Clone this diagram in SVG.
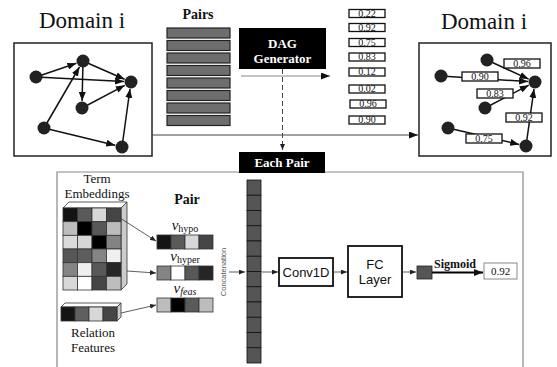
<svg xmlns="http://www.w3.org/2000/svg" width="557" height="367" viewBox="0 0 557 367">
  <style>
    .serif { font-family: "Liberation Serif", "Times New Roman", serif; }
    .sans { font-family: "Liberation Sans", Arial, sans-serif; }
    .title { font-size: 23px; fill: #111; }
    .frame { fill: #fff; stroke: #222; stroke-width: 1.5; }
    .dot { fill: #222; }
    .edge { stroke: #111; stroke-width: 1.5; fill: none; marker-end: url(#head); }
    .score { fill: #fff; stroke: #111; stroke-width: 1.3; }
    .scoretxt { font-size: 10px; fill: #111; text-anchor: middle; }
    .bar { fill: #6e6e6e; stroke: #222; stroke-width: 1.2; }
    .cell { stroke: #333; stroke-width: 0.8; }
    .thin { stroke: #333; stroke-width: 0.8; fill: none; marker-end: url(#small); }
    .panel { fill: none; stroke: #888; stroke-width: 1.2; }
    .block { fill: #fff; stroke: #111; stroke-width: 1.8; }
    .label { font-size: 13px; fill: #111; text-anchor: middle; }
  </style>
  <defs>
    <marker id="head" markerUnits="userSpaceOnUse" markerWidth="9" markerHeight="7" refX="9" refY="3.5" orient="auto">
      <path d="M0,0 L9,3.5 L0,7 z" fill="#111"/>
    </marker>
    <marker id="small" markerUnits="userSpaceOnUse" markerWidth="6" markerHeight="5" refX="6" refY="2.5" orient="auto">
      <path d="M0,0 L6,2.5 L0,5 z" fill="#222"/>
    </marker>
  </defs>

  <!-- input domain graph -->
  <g id="domain-input">
    <text class="serif title" x="82" y="28" text-anchor="middle">Domain i</text>
    <rect class="frame" x="14" y="43" width="138" height="113"/>
    <line class="edge" x1="36" y1="77" x2="76.4" y2="63.3"/>
    <line class="edge" x1="36" y1="77" x2="124" y2="81.6"/>
    <line class="edge" x1="83" y1="61" x2="124.6" y2="79.2"/>
    <line class="edge" x1="83" y1="61" x2="82.1" y2="101"/>
    <line class="edge" x1="82" y1="108" x2="124.8" y2="85.3"/>
    <line class="edge" x1="44" y1="128" x2="79.5" y2="67"/>
    <line class="edge" x1="44" y1="128" x2="115.2" y2="145.3"/>
    <line class="edge" x1="122" y1="147" x2="130" y2="88.9"/>
    <circle class="dot" cx="83" cy="61" r="6.5"/>
    <circle class="dot" cx="36" cy="77" r="6.5"/>
    <circle class="dot" cx="131" cy="82" r="6.5"/>
    <circle class="dot" cx="82" cy="108" r="6.5"/>
    <circle class="dot" cx="44" cy="128" r="6.5"/>
    <circle class="dot" cx="122" cy="147" r="6.5"/>
  </g>

  <!-- candidate pairs -->
  <g id="pairs">
    <text class="serif" x="198" y="19" font-size="14" font-weight="bold" text-anchor="middle" fill="#111">Pairs</text>
    <rect class="bar" x="167" y="28" width="63" height="10"/>
    <rect class="bar" x="167" y="40.5" width="63" height="10"/>
    <rect class="bar" x="167" y="53" width="63" height="10"/>
    <rect class="bar" x="167" y="65.5" width="63" height="10"/>
    <rect class="bar" x="167" y="78" width="63" height="10"/>
    <rect class="bar" x="167" y="90.5" width="63" height="10"/>
    <rect class="bar" x="167" y="103" width="63" height="10"/>
    <rect class="bar" x="167" y="115.5" width="63" height="10"/>
  </g>

  <g id="dag-generator">
    <rect x="239" y="28" width="87" height="41" fill="#000"/>
    <text class="serif" x="282.5" y="48" font-size="13" font-weight="bold" fill="#fff" text-anchor="middle">DAG</text>
    <text class="serif" x="282.5" y="63" font-size="13" font-weight="bold" fill="#fff" text-anchor="middle">Generator</text>
  </g>

  <!-- pair scores -->
  <g id="scores">
    <rect class="score" x="349" y="9.5" width="36" height="8"/>
    <text class="serif scoretxt" x="367" y="16.5">0.22</text>
    <rect class="score" x="349" y="23.5" width="36" height="8"/>
    <text class="serif scoretxt" x="367" y="30.5">0.92</text>
    <rect class="score" x="349" y="38.5" width="36" height="8"/>
    <text class="serif scoretxt" x="367" y="45.5">0.75</text>
    <rect class="score" x="349" y="53" width="36" height="8"/>
    <text class="serif scoretxt" x="367" y="60">0.83</text>
    <rect class="score" x="349" y="68" width="36" height="8"/>
    <text class="serif scoretxt" x="367" y="75">0.12</text>
    <rect class="score" x="349" y="85" width="36" height="8"/>
    <text class="serif scoretxt" x="367" y="92">0.02</text>
    <rect class="score" x="350" y="100" width="36" height="8"/>
    <text class="serif scoretxt" x="368" y="107">0.96</text>
    <rect class="score" x="349" y="116" width="36" height="8"/>
    <text class="serif scoretxt" x="367" y="123">0.90</text>
  </g>

  <!-- output domain graph -->
  <g id="domain-output">
    <text class="serif title" x="484" y="29" text-anchor="middle">Domain i</text>
    <rect class="frame" x="419" y="43" width="132" height="113"/>
    <line class="edge" x1="487" y1="60" x2="528.6" y2="79.1"/>
    <line class="edge" x1="441" y1="76" x2="528" y2="81.6"/>
    <line class="edge" x1="485" y1="108" x2="528.8" y2="85.2"/>
    <line class="edge" x1="526" y1="146" x2="534" y2="88.9"/>
    <line class="edge" x1="448" y1="128" x2="519.2" y2="144.4"/>
    <circle class="dot" cx="487" cy="60" r="6.5"/>
    <circle class="dot" cx="441" cy="76" r="6.5"/>
    <circle class="dot" cx="535" cy="82" r="6.5"/>
    <circle class="dot" cx="485" cy="108" r="6.5"/>
    <circle class="dot" cx="448" cy="128" r="6.5"/>
    <circle class="dot" cx="526" cy="146" r="6.5"/>
    <rect class="score" x="504" y="59" width="36" height="9"/>
    <text class="serif scoretxt" x="522" y="67">0.96</text>
    <rect class="score" x="462" y="72" width="36" height="9"/>
    <text class="serif scoretxt" x="480" y="80">0.90</text>
    <rect class="score" x="477" y="89" width="36" height="9"/>
    <text class="serif scoretxt" x="495" y="97">0.83</text>
    <rect class="score" x="506" y="113" width="36" height="9"/>
    <text class="serif scoretxt" x="524" y="121">0.92</text>
    <rect class="score" x="466" y="134" width="36" height="9"/>
    <text class="serif scoretxt" x="484" y="142">0.75</text>
  </g>

  <!-- connectors -->
  <g id="connectors">
    <line x1="152" y1="135" x2="418" y2="135" stroke="#444" stroke-width="1" marker-end="url(#head)"/>
    <line x1="241" y1="76" x2="330" y2="76" stroke="#888" stroke-width="1.2" marker-end="url(#head)"/>
    <line x1="282.5" y1="69" x2="282.5" y2="150" stroke="#444" stroke-width="1" stroke-dasharray="5,3" marker-end="url(#small)"/>
  </g>

  <!-- per-pair scoring panel -->
  <g id="panel">
    <polyline class="panel" points="57,367 57,172 523,172 523,367"/>
  </g>

  <g id="each-pair">
    <rect x="239" y="152" width="86" height="21" fill="#000"/>
    <text class="serif" x="282" y="167" font-size="13" font-weight="bold" fill="#fff" text-anchor="middle">Each Pair</text>
  </g>

  <g id="term-embeddings">
    <text class="serif label" x="97" y="183">Term</text>
    <text class="serif label" x="97" y="198">Embeddings</text>
    <polygon points="63,208 69,202 127,202 121,208" fill="#fff" stroke="#333" stroke-width="0.8"/>
    <polygon points="121,208 127,202 127,284 121,290" fill="#ccc" stroke="#333" stroke-width="0.8"/>
    <g class="cell">
      <rect x="63" y="208" width="14.5" height="13.67" fill="#141414"/>
      <rect x="77.5" y="208" width="14.5" height="13.67" fill="#5a5a5a"/>
      <rect x="92" y="208" width="14.5" height="13.67" fill="#d8d8d8"/>
      <rect x="106.5" y="208" width="14.5" height="13.67" fill="#454545"/>
      <rect x="63" y="221.67" width="14.5" height="13.67" fill="#bdbdbd"/>
      <rect x="77.5" y="221.67" width="14.5" height="13.67" fill="#000"/>
      <rect x="92" y="221.67" width="14.5" height="13.67" fill="#585858"/>
      <rect x="106.5" y="221.67" width="14.5" height="13.67" fill="#bcbcbc"/>
      <rect x="63" y="235.33" width="14.5" height="13.67" fill="#dadada"/>
      <rect x="77.5" y="235.33" width="14.5" height="13.67" fill="#d6d6d6"/>
      <rect x="92" y="235.33" width="14.5" height="13.67" fill="#000"/>
      <rect x="106.5" y="235.33" width="14.5" height="13.67" fill="#838383"/>
      <rect x="63" y="249" width="14.5" height="13.67" fill="#575757"/>
      <rect x="77.5" y="249" width="14.5" height="13.67" fill="#5d5d5d"/>
      <rect x="92" y="249" width="14.5" height="13.67" fill="#858585"/>
      <rect x="106.5" y="249" width="14.5" height="13.67" fill="#f0f0f0"/>
      <rect x="63" y="262.67" width="14.5" height="13.67" fill="#848484"/>
      <rect x="77.5" y="262.67" width="14.5" height="13.67" fill="#efefef"/>
      <rect x="92" y="262.67" width="14.5" height="13.67" fill="#585858"/>
      <rect x="106.5" y="262.67" width="14.5" height="13.67" fill="#262626"/>
      <rect x="63" y="276.33" width="14.5" height="13.67" fill="#d8d8d8"/>
      <rect x="77.5" y="276.33" width="14.5" height="13.67" fill="#fff"/>
      <rect x="92" y="276.33" width="14.5" height="13.67" fill="#454545"/>
      <rect x="106.5" y="276.33" width="14.5" height="13.67" fill="#bdbdbd"/>
    </g>
  </g>

  <g id="relation-features">
    <polygon points="61,307 65,303 121,303 117,307" fill="#fff" stroke="#333" stroke-width="0.8"/>
    <polygon points="117,307 121,303 121,317 117,321" fill="#ccc" stroke="#333" stroke-width="0.8"/>
    <g class="cell">
      <rect x="61" y="307" width="14" height="14" fill="#141414"/>
      <rect x="75" y="307" width="14" height="14" fill="#5f5f5f"/>
      <rect x="89" y="307" width="14" height="14" fill="#d8d8d8"/>
      <rect x="103" y="307" width="14" height="14" fill="#454545"/>
    </g>
    <text class="serif label" x="93" y="337">Relation</text>
    <text class="serif label" x="93" y="352">Features</text>
  </g>

  <g id="pair-vectors">
    <text class="serif" x="187" y="204" font-size="14" font-weight="bold" text-anchor="middle" fill="#111">Pair</text>
    <text class="serif" x="185" y="230" text-anchor="middle" fill="#111"><tspan font-size="15" font-style="italic">v</tspan><tspan font-size="10" dy="2">hypo</tspan></text>
    <g class="cell">
      <rect x="157" y="235" width="14" height="14" fill="#141414"/>
      <rect x="171" y="235" width="14" height="14" fill="#5a5a5a"/>
      <rect x="185" y="235" width="14" height="14" fill="#d8d8d8"/>
      <rect x="199" y="235" width="14" height="14" fill="#454545"/>
    </g>
    <text class="serif" x="185" y="261" text-anchor="middle" fill="#111"><tspan font-size="15" font-style="italic">v</tspan><tspan font-size="10" dy="2">hyper</tspan></text>
    <g class="cell">
      <rect x="157" y="266" width="14" height="14" fill="#848484"/>
      <rect x="171" y="266" width="14" height="14" fill="#fff"/>
      <rect x="185" y="266" width="14" height="14" fill="#585858"/>
      <rect x="199" y="266" width="14" height="14" fill="#262626"/>
    </g>
    <text class="serif" x="185" y="293" text-anchor="middle" fill="#111"><tspan font-size="15" font-style="italic">v</tspan><tspan font-size="10" font-style="italic" dy="2">feas</tspan></text>
    <g class="cell">
      <rect x="157" y="298" width="14" height="14" fill="#bdbdbd"/>
      <rect x="171" y="298" width="14" height="14" fill="#000"/>
      <rect x="185" y="298" width="14" height="14" fill="#5a5a5a"/>
      <rect x="199" y="298" width="14" height="14" fill="#bdbdbd"/>
    </g>
    <line class="thin" x1="120" y1="218" x2="156" y2="241"/>
    <line class="thin" x1="127" y1="271" x2="156" y2="273"/>
    <line class="thin" x1="121" y1="313" x2="156" y2="305"/>
  </g>

  <g id="concatenation">
    <text class="sans" transform="translate(226,272) rotate(-90)" font-size="7.5" fill="#555" text-anchor="middle">Concatenation</text>
    <line class="thin" x1="229" y1="272" x2="245" y2="272"/>
    <g fill="#555" stroke="#111" stroke-width="0.8">
      <rect x="247" y="180" width="14" height="15.25"/>
      <rect x="247" y="195.25" width="14" height="15.25"/>
      <rect x="247" y="210.5" width="14" height="15.25"/>
      <rect x="247" y="225.75" width="14" height="15.25"/>
      <rect x="247" y="241" width="14" height="15.25"/>
      <rect x="247" y="256.25" width="14" height="15.25"/>
      <rect x="247" y="271.5" width="14" height="15.25"/>
      <rect x="247" y="286.75" width="14" height="15.25"/>
      <rect x="247" y="302" width="14" height="15.25"/>
      <rect x="247" y="317.25" width="14" height="15.25"/>
      <rect x="247" y="332.5" width="14" height="15.25"/>
      <rect x="247" y="347.75" width="14" height="15.25"/>
    </g>
    <line class="thin" x1="262" y1="272" x2="278" y2="272"/>
  </g>

  <g id="conv1d">
    <rect class="block" x="279" y="258" width="54" height="28"/>
    <text class="sans label" x="306" y="277">Conv1D</text>
  </g>
  <line class="thin" x1="333" y1="272" x2="347" y2="272"/>

  <g id="fc-layer">
    <rect class="block" x="348" y="246" width="54" height="51"/>
    <text class="sans label" x="375" y="269">FC</text>
    <text class="sans label" x="375" y="284">Layer</text>
  </g>
  <line class="thin" x1="402" y1="272" x2="416" y2="272"/>

  <g id="output">
    <rect x="417" y="266" width="15" height="13" fill="#555" stroke="#222" stroke-width="0.8"/>
    <line x1="432" y1="272.5" x2="483" y2="272.5" stroke="#000" stroke-width="2.2" marker-end="url(#head)"/>
    <text class="serif" x="455" y="268" font-size="12" font-weight="bold" text-anchor="middle" fill="#111">Sigmoid</text>
    <rect x="484" y="263" width="33" height="16" fill="#fff" stroke="#888" stroke-width="1"/>
    <text class="serif" x="500.5" y="275" font-size="11" text-anchor="middle" fill="#111">0.92</text>
  </g>
</svg>
